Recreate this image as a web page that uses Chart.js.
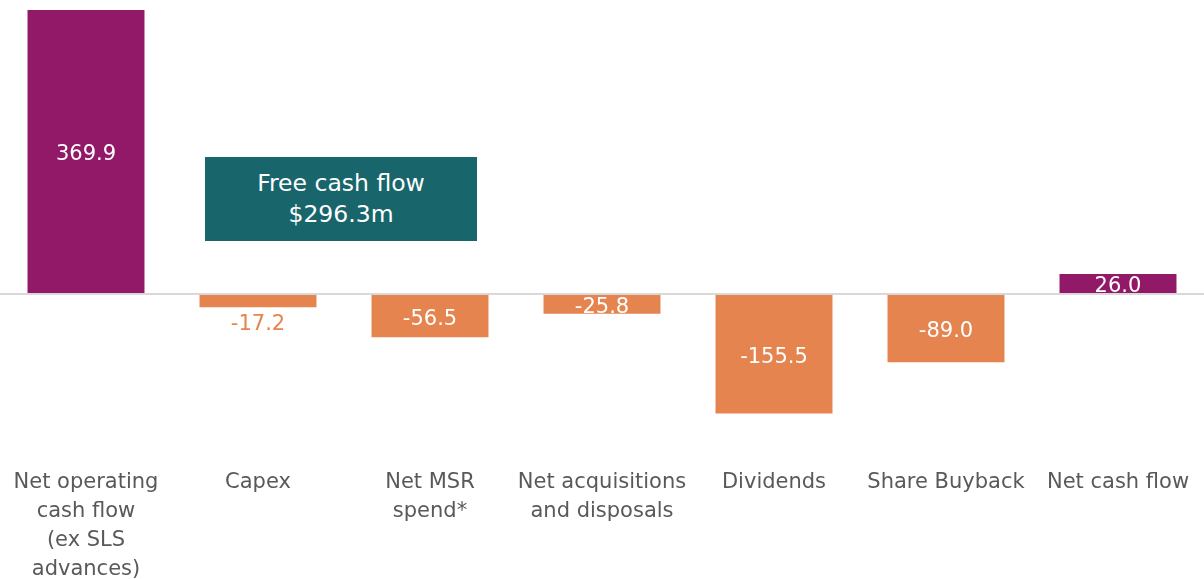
<!DOCTYPE html>
<html>
<head>
<meta charset="utf-8">
<script src="https://cdn.jsdelivr.net/npm/chart.js@4.4.1/dist/chart.umd.min.js"></script>
<style>
  html, body { margin: 0; padding: 0; background: #fff; }
  #wrap { position: relative; width: 1204px; height: 579px; }
  #fcf {
    position: absolute; left: 205px; top: 157px; width: 272px; height: 84px;
    background: #18656c; color: #fff; font-family: "DejaVu Sans", sans-serif;
    font-size: 23.5px; line-height: 31px; text-align: center;
    display: flex; flex-direction: column; justify-content: center;
  }
</style>
</head>
<body>
<div id="wrap">
  <canvas id="cashChart" width="1204" height="579"></canvas>
  <div id="fcf"><div>Free cash flow</div><div>$296.3m</div></div>
</div>
<script>
// categories (multi-line tick labels) and values, $m
const categories = [
  ["Net operating", "cash flow", "(ex SLS", "advances)"],
  ["Capex"],
  ["Net MSR", "spend*"],
  ["Net acquisitions", "and disposals"],
  ["Dividends"],
  ["Share Buyback"],
  ["Net cash flow"],
];
const values = [369.9, -17.2, -56.5, -25.8, -155.5, -89.0, 26.0];
const barColors = ["#921868", "#e5844f", "#e5844f", "#e5844f", "#e5844f", "#e5844f", "#921868"];

const FONT = "DejaVu Sans";

/* value labels: centred in the bar, small bars get the label below */
const valueLabels = {
  id: "valueLabels",
  afterDatasetsDraw(chart) {
    const ctx = chart.ctx;
    const meta = chart.getDatasetMeta(0);
    ctx.save();
    ctx.font = "21px '" + FONT + "'";
    ctx.textAlign = "center";
    ctx.textBaseline = "middle";
    meta.data.forEach((bar, i) => {
      const v = values[i];
      const h = Math.abs(bar.base - bar.y);
      let y = (bar.y + bar.base) / 2 + 2;
      ctx.fillStyle = "#ffffff";
      if (h < 15) {
        y = bar.y + 16;
        ctx.fillStyle = barColors[i];
      }
      ctx.fillText(v.toFixed(1), bar.x, y + 1);
    });
    ctx.restore();
  },
};

new Chart(document.getElementById("cashChart"), {
  type: "bar",
  data: {
    labels: categories,
    datasets: [
      {
        data: values,
        backgroundColor: barColors,
        borderWidth: 0,
        categoryPercentage: 1,
        barPercentage: 0.68,
      },
    ],
  },
  options: {
    responsive: false,
    animation: false,
    layout: { padding: { top: 10, left: 0, right: 0, bottom: 0 } },
    plugins: { legend: { display: false }, tooltip: { enabled: false } },
    scales: {
      x: {
        grid: { display: false, drawTicks: false },
        border: { display: false },
        ticks: {
          color: "#595959",
          font: { family: FONT, size: 21, lineHeight: 1.38 },
          maxRotation: 0,
          autoSkip: false,
          padding: 18,
        },
        afterFit: (scale) => {
          scale.height = 129;
          scale.paddingLeft = 0;
          scale.paddingRight = 0;
        },
      },
      y: {
        min: -203.2,
        max: 369.9,
        border: { display: false },
        ticks: { display: false, stepSize: 100 },
        grid: {
          drawTicks: false,
          lineWidth: 2,
          color: (c) => (c.tick && c.tick.value === 0 ? "#d9d9d9" : "rgba(0,0,0,0)"),
        },
      },
    },
  },
  plugins: [valueLabels],
});
</script>
</body>
</html>
